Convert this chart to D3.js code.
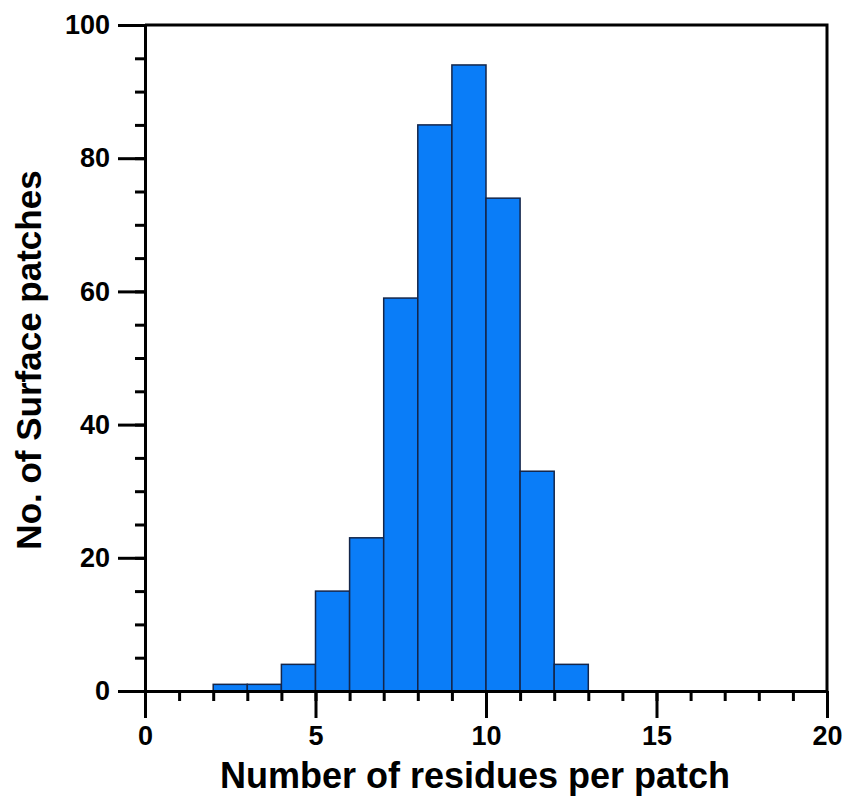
<!DOCTYPE html>
<html>
<head>
<meta charset="utf-8">
<script src="https://cdn.jsdelivr.net/npm/d3@7"></script>
<style>
  body { margin: 0; background: #fff; }
  svg { font-family: "Liberation Sans", Arial, sans-serif; font-weight: bold; }
</style>
</head>
<body>
<svg width="846" height="798"></svg>
<script>
// bins (left edge, right edge) and counts
const binStart = [2, 3, 4, 5, 6, 7, 8, 9, 10, 11, 12];
const binEnd = [3, 4, 5, 6, 7, 8, 9, 10, 11, 12, 13];
const counts = [1, 1, 4, 15, 23, 59, 85, 94, 74, 33, 4];

const xMajor = [0, 5, 10, 15, 20];
const yMajor = [0, 20, 40, 60, 80, 100];

const svg = d3.select("svg");
const margin = { left: 145, top: 25, right: 19, bottom: 107 };
const width = 846 - margin.left - margin.right,
  height = 798 - margin.top - margin.bottom;

const g = svg.append("g").attr("transform", `translate(${margin.left},${margin.top})`);

const x = d3.scaleLinear().domain([0, 20]).range([0, width]);
const y = d3.scaleLinear().domain([0, 100]).range([height, 0]);

// bars
g.append("g")
  .selectAll("rect")
  .data(counts)
  .join("rect")
  .attr("x", (d, i) => x(binStart[i]))
  .attr("width", (d, i) => x(binEnd[i]) - x(binStart[i]))
  .attr("y", d => y(d))
  .attr("height", d => y(0) - y(d))
  .attr("fill", "#0a7df8")
  .attr("stroke", "#14264a")
  .attr("stroke-width", 1.5);

// minor ticks
g.append("g")
  .attr("transform", `translate(0,${height})`)
  .call(d3.axisBottom(x).ticks(20).tickSize(10).tickSizeOuter(0).tickFormat(""))
  .call(s => s.select(".domain").remove())
  .selectAll("line").attr("stroke-width", 3);

g.append("g")
  .call(d3.axisLeft(y).tickValues(d3.range(0, 101, 5)).tickSize(10).tickSizeOuter(0).tickFormat(""))
  .call(s => s.select(".domain").remove())
  .selectAll("line").attr("stroke-width", 3);

// major ticks + labels
const xAxis = g.append("g")
  .attr("transform", `translate(0,${height})`)
  .call(d3.axisBottom(x).tickValues(xMajor).tickSize(27).tickSizeOuter(0).tickPadding(8));
xAxis.selectAll("line").attr("stroke-width", 3);
xAxis.select(".domain").attr("stroke-width", 3);
xAxis.selectAll("text").attr("font-size", 27).attr("fill", "#000");

const yAxis = g.append("g")
  .call(d3.axisLeft(y).tickValues(yMajor).tickSize(27).tickSizeOuter(0).tickPadding(8));
yAxis.selectAll("line").attr("stroke-width", 3);
yAxis.select(".domain").attr("stroke-width", 3);
yAxis.selectAll("text").attr("font-size", 27).attr("fill", "#000");

// frame top and right
g.append("path")
  .attr("d", `M0,0H${width}V${height}`)
  .attr("fill", "none")
  .attr("stroke", "#000")
  .attr("stroke-width", 3);

// titles
svg.append("text")
  .attr("x", 475)
  .attr("y", 788)
  .attr("text-anchor", "middle")
  .attr("font-size", 36)
  .text("Number of residues per patch");

svg.append("text")
  .attr("transform", `translate(41,${margin.top + height / 2 + 2}) rotate(-90)`)
  .attr("text-anchor", "middle")
  .attr("font-size", 35)
  .text("No. of Surface patches");
</script>
</body>
</html>
